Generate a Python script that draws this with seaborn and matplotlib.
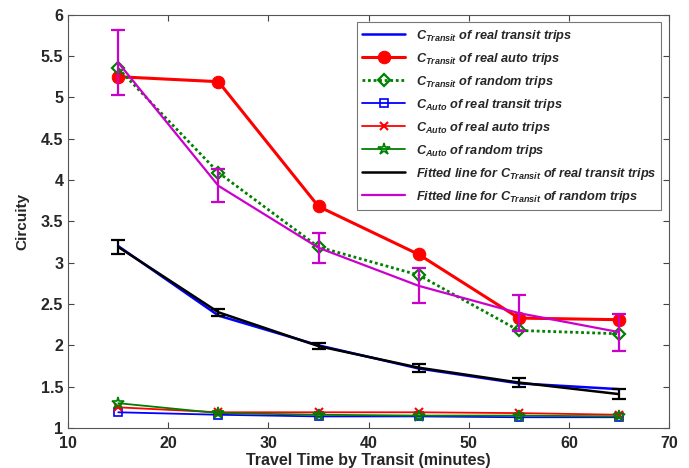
import matplotlib
matplotlib.use("Agg")
import matplotlib.pyplot as plt
import numpy as np
import pandas as pd
import seaborn as sns

# travel time bins (minutes)
travel_time = [15, 25, 35, 45, 55, 65]

# C_Transit series
ct_real_transit = [3.20, 2.36, 2.00, 1.72, 1.54, 1.47]
ct_real_auto = [5.25, 5.19, 3.68, 3.10, 2.33, 2.31]
ct_random = [5.35, 4.09, 3.19, 2.85, 2.18, 2.14]

# C_Auto series
ca_real_transit = [1.19, 1.16, 1.14, 1.14, 1.13, 1.13]
ca_real_auto = [1.25, 1.19, 1.19, 1.19, 1.18, 1.16]
ca_random = [1.30, 1.18, 1.16, 1.15, 1.15, 1.14]

# fitted lines with error bars
fit_real_transit = [3.19, 2.40, 1.99, 1.73, 1.55, 1.41]
fit_real_transit_err = [0.09, 0.04, 0.04, 0.05, 0.06, 0.06]
fit_random = [5.42, 3.93, 3.18, 2.72, 2.39, 2.16]
fit_random_err = [0.39, 0.20, 0.185, 0.21, 0.22, 0.225]

sns.set_style("ticks")
plt.rcParams["font.family"] = ["Liberation Sans", "DejaVu Sans"]
plt.rcParams["font.weight"] = "bold"
plt.rcParams["mathtext.fontset"] = "custom"
plt.rcParams["mathtext.it"] = "Liberation Sans:italic:bold"
plt.rcParams["mathtext.rm"] = "Liberation Sans:bold"

fig = plt.figure(figsize=(6.89, 4.68), dpi=100)
ax = fig.add_axes([0.099, 0.0855, 0.872, 0.883])

series = [
    (ct_real_transit, r"$C_{Transit}$ of real transit trips",
     dict(color="blue", lw=1.8, ls="-", marker="None")),
    (ct_real_auto, r"$C_{Transit}$ of real auto trips",
     dict(color="red", lw=2.2, ls="-", marker="o", markersize=9,
          markerfacecolor="red", markeredgecolor="red")),
    (ct_random, r"$C_{Transit}$ of random trips",
     dict(color="green", lw=2.0, ls=(0, (1, 1)), marker="D", markersize=6.5,
          markerfacecolor="none", markeredgecolor="green", markeredgewidth=1.6)),
    (ca_real_transit, r"$C_{Auto}$ of real transit trips",
     dict(color="blue", lw=1.3, ls="-", marker="s", markersize=6,
          markerfacecolor="none", markeredgecolor="blue", markeredgewidth=1.2)),
    (ca_real_auto, r"$C_{Auto}$ of real auto trips",
     dict(color="red", lw=1.3, ls="-", marker="x", markersize=6,
          markeredgecolor="red", markeredgewidth=1.5)),
    (ca_random, r"$C_{Auto}$ of random trips",
     dict(color="green", lw=1.3, ls="-", marker="*", markersize=9,
          markerfacecolor="none", markeredgecolor="green", markeredgewidth=1.2)),
    (fit_real_transit, r"Fitted line for $C_{Transit}$ of real transit trips",
     dict(color="black", lw=1.8, ls="-", marker="None")),
    (fit_random, r"Fitted line for $C_{Transit}$ of random trips",
     dict(color="#cc00cc", lw=1.6, ls="-", marker="None")),
]

lines = []
for values, label, style in series:
    df = pd.DataFrame({"x": travel_time, "y": values})
    sns.lineplot(data=df, x="x", y="y", ax=ax, color=style["color"])
    line = ax.lines[-1]
    line.set(label=label, **style)
    lines.append(line)

ax.errorbar(travel_time, fit_real_transit, yerr=fit_real_transit_err,
            fmt="none", ecolor="black", elinewidth=1.6, capsize=5, capthick=1.6)
ax.errorbar(travel_time, fit_random, yerr=fit_random_err,
            fmt="none", ecolor="#cc00cc", elinewidth=1.6, capsize=5, capthick=1.6)

ax.set_xlim(10, 70)
ax.set_ylim(1, 6)
ax.set_xticks(np.arange(10, 71, 10))
ax.set_yticks(np.arange(1, 6.01, 0.5))
ax.set_yticklabels(["1", "1.5", "2", "2.5", "3", "3.5", "4", "4.5", "5", "5.5", "6"])
ax.tick_params(direction="in", top=True, right=True, labelsize=11.5, length=4,
               color="#444444")
ax.tick_params(axis="x", pad=6)
for lab in ax.get_xticklabels() + ax.get_yticklabels():
    lab.set_fontweight("bold")
for sp in ax.spines.values():
    sp.set_color("#555555")
    sp.set_linewidth(0.8)

ax.set_xlabel("Travel Time by Transit (minutes)", fontsize=11.5, fontweight="bold",
              labelpad=1)
ax.set_ylabel("Circuity", fontsize=11, fontweight="bold", labelpad=8)

leg = ax.legend(handles=lines, loc="upper right", fontsize=9.2, frameon=True,
                fancybox=False, edgecolor="#555555", handlelength=3.4,
                labelspacing=0.55, borderaxespad=0.6)
leg.get_frame().set_linewidth(0.8)
for t in leg.get_texts():
    t.set_fontstyle("italic")
    t.set_fontweight("bold")

fig.savefig("out.png", dpi=100)
